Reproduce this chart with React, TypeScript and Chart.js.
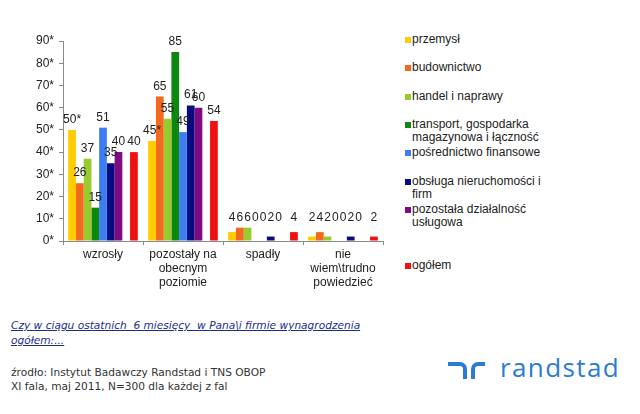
import React, { useEffect, useRef } from "react";
import { Chart, registerables } from "chart.js";

Chart.register(...registerables);

const categories: (string | string[])[] = [
  "wzrosły",
  ["pozostały na", "obecnym", "poziomie"],
  "spadły",
  ["nie", "wiem\\trudno", "powiedzieć"],
];

const seriesNames = [
  "przemysł",
  "budownictwo",
  "handel i naprawy",
  "transport, gospodarka magazynowa i łączność",
  "pośrednictwo finansowe",
  "obsługa nieruchomości i firm",
  "pozostała działalność usługowa",
  "",
  "ogółem",
];

const przemysl = [50, 45, 4, 2];
const budownictwo = [26, 65, 6, 4];
const handel = [37, 55, 6, 2];
const transport = [15, 85, 0, 0];
const posrednictwo = [51, 49, 0, 0];
const obsluga = [35, 61, 2, 2];
const pozostala = [40, 60, 0, 0];
const pusta: (number | null)[] = [null, null, null, null];
const ogolem = [40, 54, 4, 2];

const przemyslLabels = ["50*", "45*", "4", "2"];

const yTickLabels = ["0*", "10*", "20*", "30*", "40*", "50*", "60*", "70*", "80*", "90*"];

const seriesColors = [
  "#FFCC00",
  "#F36A1E",
  "#9ACB2C",
  "#0C870F",
  "#3D7DF2",
  "#0B0B80",
  "#7F0A82",
  "rgba(0,0,0,0)",
  "#F01010",
];

const seriesValues = [przemysl, budownictwo, handel, transport, posrednictwo, obsluga, pozostala, pusta, ogolem];

const FONT = '"Liberation Sans", Arial, sans-serif';

const valueLabelPlugin = {
  id: "valueLabels",
  afterDatasetsDraw(chart: any) {
    const ctx = chart.ctx;
    const base = chart.scales.y.getPixelForValue(0);
    ctx.save();
    ctx.font = `12px ${FONT}`;
    ctx.fillStyle = "#222";
    ctx.textAlign = "center";
    ctx.textBaseline = "alphabetic";
    chart.data.datasets.forEach((ds: any, di: number) => {
      const meta = chart.getDatasetMeta(di);
      meta.data.forEach((bar: any, i: number) => {
        const v = ds.data[i];
        if (v === null || v === undefined) return;
        const txt = ds.valueLabels ? ds.valueLabels[i] : String(v);
        const y = Math.min(bar.y - 7, base - 20);
        ctx.fillText(txt, bar.x, y);
      });
    });
    ctx.restore();
  },
};

function LegendBox() {
  return (
    <div style={{ position: "absolute", left: 404, top: 33, width: 160 }}>
      {seriesNames.map((name, i) => (
        <div
          key={i}
          style={{ position: "absolute", left: 0, top: i * 28.3, width: 160, height: 28 }}
        >
          {name ? (
            <>
              <div
                style={{
                  position: "absolute",
                  left: 1,
                  top: 4,
                  width: 6,
                  height: 6,
                  background: seriesColors[i],
                }}
              />
              <div
                style={{
                  position: "absolute",
                  left: 8,
                  top: 0,
                  width: 142,
                  font: `12px ${FONT}`,
                  lineHeight: "13px",
                  color: "#222",
                }}
              >
                {name}
              </div>
            </>
          ) : null}
        </div>
      ))}
    </div>
  );
}

export default function App() {
  const canvasRef = useRef<HTMLCanvasElement | null>(null);

  useEffect(() => {
    if (!canvasRef.current) return;
    const chart = new Chart(canvasRef.current, {
      type: "bar",
      data: {
        labels: categories as any,
        datasets: seriesNames.map((name, i) => ({
          label: name,
          data: seriesValues[i] as any,
          backgroundColor: seriesColors[i],
          borderWidth: 0,
          barPercentage: 1,
          categoryPercentage: 0.87,
          valueLabels: i === 0 ? przemyslLabels : undefined,
        })) as any,
      },
      options: {
        animation: false,
        responsive: true,
        maintainAspectRatio: false,
        layout: { padding: { left: 0, top: 41, right: 17, bottom: 0 } },
        plugins: {
          legend: { display: false },
          tooltip: { enabled: false },
          title: { display: false },
        },
        scales: {
          x: {
            afterFit: (s: any) => {
              s.height = 59;
            },
            grid: {
              offset: true,
              drawOnChartArea: false,
              drawTicks: true,
              tickLength: 4,
              color: "#8a8a8a",
            },
            border: { display: true, color: "#8a8a8a", width: 1 },
            ticks: {
              color: "#222",
              padding: 3,
              font: { family: FONT, size: 12, lineHeight: 1.17 },
              maxRotation: 0,
              autoSkip: false,
            },
          },
          y: {
            min: 0,
            max: 90,
            afterFit: (s: any) => {
              s.width = 63;
            },
            grid: {
              drawOnChartArea: false,
              drawTicks: true,
              tickLength: 4,
              color: "#8a8a8a",
            },
            border: { display: true, color: "#8a8a8a", width: 1 },
            ticks: {
              stepSize: 10,
              color: "#222",
              padding: 5,
              font: { family: FONT, size: 12 },
              callback: (_v: any, idx: number) => yTickLabels[idx],
            },
          },
        },
      },
      plugins: [valueLabelPlugin],
    });
    return () => chart.destroy();
  }, []);

  return (
    <div
      style={{
        position: "fixed",
        left: 0,
        top: 0,
        width: 640,
        height: 414,
        background: "#fff",
        overflow: "hidden",
      }}
    >
      <div style={{ position: "absolute", left: 0, top: 0, width: 400, height: 300 }}>
        <canvas ref={canvasRef} />
      </div>
      <LegendBox />
      <div
        style={{
          position: "absolute",
          left: 11,
          top: 318,
          font: `italic 10.6px "DejaVu Sans", sans-serif`,
          lineHeight: "15px",
          color: "#1c2c8c",
          textDecoration: "underline",
          whiteSpace: "pre",
        }}
      >
        {"Czy w ciągu ostatnich  6 miesięcy  w Pana\\i firmie wynagrodzenia"}
        <br />
        {"ogółem:..."}
      </div>
      <div
        style={{
          position: "absolute",
          left: 11,
          top: 365,
          font: `10.6px "DejaVu Sans", sans-serif`,
          lineHeight: "14px",
          color: "#333",
          whiteSpace: "pre",
        }}
      >
        {"źrodło: Instytut Badawczy Randstad i TNS OBOP"}
        <br />
        {"XI fala, maj 2011, N=300 dla każdej z fal"}
      </div>
      <div style={{ position: "absolute", left: 448, top: 362, width: 40, height: 16 }}>
        <div
          style={{
            position: "absolute",
            left: 0,
            top: 0,
            width: 15,
            height: 13,
            borderTop: "4px solid #2B7BD6",
            borderRight: "4px solid #2B7BD6",
            borderTopRightRadius: 7,
          }}
        />
        <div
          style={{
            position: "absolute",
            left: 23,
            top: 0,
            width: 10,
            height: 13,
            borderTop: "4px solid #2B7BD6",
            borderLeft: "4px solid #2B7BD6",
            borderTopLeftRadius: 7,
          }}
        />
      </div>
      <div
        style={{
          position: "absolute",
          left: 500,
          top: 349,
          font: `26px "Open Sans", sans-serif`,
          letterSpacing: "1.4px",
          lineHeight: "36px",
          color: "#2B7BD6",
          whiteSpace: "pre",
        }}
      >
        randstad
      </div>
    </div>
  );
}
